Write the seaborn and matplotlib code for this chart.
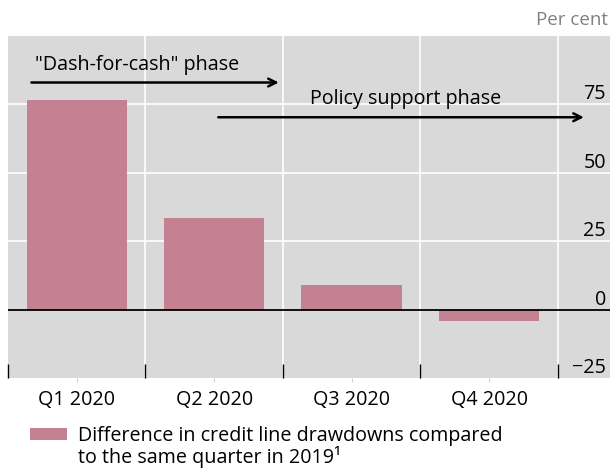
import numpy as np
import pandas as pd
import matplotlib
matplotlib.use("Agg")
import matplotlib.pyplot as plt
import seaborn as sns

quarters = ["Q1 2020", "Q2 2020", "Q3 2020", "Q4 2020"]
drawdown_diff = [76.5, 33.5, 9.0, -4.3]
y_ticks = [-25, 0, 25, 50, 75]
legend_line1 = "Difference in credit line drawdowns compared"
legend_line2 = "to the same quarter in 2019\u00b9"

df = pd.DataFrame({"quarter": quarters, "value": drawdown_diff})

sns.set_style("white", {"text.color": "black", "xtick.color": "black", "ytick.color": "black"})
plt.rcParams["font.family"] = ["Open Sans", "DejaVu Sans"]

fs = 14.2
bar_color = "#c48191"
fig = plt.figure(figsize=(6.1, 4.68), dpi=100)
ax = fig.add_axes([8 / 610, 90 / 468, 602 / 610, 342 / 468])
ax.set_facecolor("#d9d9d9")

sns.barplot(data=df, x="quarter", y="value", color=bar_color, width=0.73,
            saturation=1, ax=ax, linewidth=0, edgecolor="none", zorder=3)

ax.set_xlim(-0.5, 3.88)
ax.set_ylim(-25, 100)
ax.set_xlabel("")
ax.set_ylabel("")
ax.set_axisbelow(False)
for s in ax.spines.values():
    s.set_visible(False)

# gridlines
ax.set_yticks(y_ticks)
ax.set_xticks(range(len(quarters)))
ax.set_xticklabels(quarters)
ax.set_xticks([-0.5, 0.5, 1.5, 2.5, 3.5], minor=True)
ax.grid(False)
for v in [25, 50, 75]:
    ax.axhline(v, color="white", lw=1.2, zorder=1)
for v in [0.5, 1.5, 2.5, 3.5]:
    ax.axvline(v, color="white", lw=1.2, zorder=1)
ax.axhline(0, color="black", lw=1.3, zorder=4)

ax.tick_params(axis="x", which="both", bottom=True)
ax.tick_params(axis="x", which="major", length=3, color="#d0d0d0", labelsize=fs, pad=6)
ax.tick_params(axis="x", which="minor", direction="in", length=10, color="black", width=1)
ax.yaxis.set_ticks_position("right")
ax.tick_params(axis="y", labelright=True, labelleft=False, length=0, pad=-3, labelsize=fs)
ax.set_yticklabels([("\u2212" + str(abs(t))) if t < 0 else str(t) for t in y_ticks])
for lab in ax.get_yticklabels():
    lab.set_ha("right")
    lab.set_va("bottom")

# phase annotations
arrow = dict(arrowstyle="->", color="black", lw=1.8, mutation_scale=14, shrinkA=0, shrinkB=0)
ax.annotate("", xy=(1.47, 83), xytext=(-0.33, 83), arrowprops=arrow, zorder=5)
ax.text(-0.3, 89.5, "\"Dash-for-cash\" phase", fontsize=fs, va="center", ha="left", zorder=5)
ax.annotate("", xy=(3.69, 70.3), xytext=(1.03, 70.3), arrowprops=arrow, zorder=5)
ax.text(1.7, 77, "Policy support phase", fontsize=fs, va="center", ha="left", zorder=5)

fig.text(608 / 610, 1 - 20 / 468, "Per cent", ha="right", va="center", fontsize=13.5, color="#808080")

# legend
handle = plt.Rectangle((0, 0), 1, 1, color=bar_color, lw=0)
fig.legend([handle], [legend_line1], loc="center left", bbox_to_anchor=(22 / 610, 1 - 436 / 468),
           frameon=False, fontsize=fs, handlelength=1.9, handleheight=0.6,
           borderaxespad=0, handletextpad=0.55)
fig.text(78 / 610, 1 - 457 / 468, legend_line2, fontsize=fs, va="center", ha="left")

fig.savefig("out.png", dpi=100)
